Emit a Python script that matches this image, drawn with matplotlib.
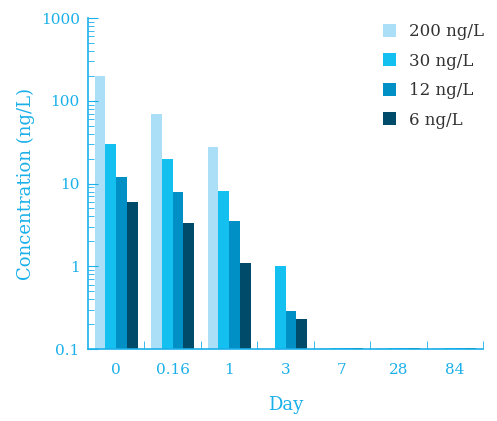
import numpy as np
import matplotlib
matplotlib.use("Agg")
import matplotlib.pyplot as plt
from matplotlib.ticker import FixedLocator, NullFormatter

days = ["0", "0.16", "1", "3", "7", "28", "84"]
series = ["200 ng/L", "30 ng/L", "12 ng/L", "6 ng/L"]
conc_200 = [200, 70, 28, 0.1, 0.102, 0.102, 0.102]
conc_30 = [30, 20, 8.2, 1.0, 0.103, 0.103, 0.103]
conc_12 = [12, 8, 3.5, 0.29, 0.103, 0.103, 0.103]
conc_6 = [6, 3.3, 1.1, 0.23, 0.104, 0.104, 0.104]

colors = ["#aadff7", "#14c0f0", "#0090c6", "#004a6a"]
blue = "#1ab0ea"

plt.rcParams['font.family'] = ['DejaVu Serif']

fig = plt.figure(figsize=(4.97, 4.21), dpi=100)
ax = fig.add_axes([0.177, 0.171, 0.795, 0.786])

x = np.arange(len(days))
w = 0.19
for i, vals in enumerate([conc_200, conc_30, conc_12, conc_6]):
    ax.bar(x + (i - 1.5) * w, vals, width=w, color=colors[i], label=series[i],
           bottom=0, log=True)

ax.set_yscale('log')
ax.set_ylim(0.1, 1000)
ax.set_xlim(-0.5, 6.5)
ax.set_yticks([0.1, 1, 10, 100, 1000])
ax.set_yticklabels(["0.1", "1", "10", "100", "1000"])
ax.set_xticks(x)
ax.set_xticklabels(days)
ax.xaxis.set_minor_locator(FixedLocator(np.arange(0.5, 7, 1)))
ax.xaxis.set_minor_formatter(NullFormatter())

ax.tick_params(axis='y', which='major', direction='in', length=7, color=blue,
               labelcolor=blue, labelsize=11, pad=6)
ax.tick_params(axis='y', which='minor', direction='in', length=4, color=blue)
ax.tick_params(axis='x', which='major', length=0, labelcolor=blue, labelsize=11, pad=10)
ax.tick_params(axis='x', which='minor', direction='in', length=6, color=blue)

for s in ['top', 'right']:
    ax.spines[s].set_visible(False)
for s in ['left', 'bottom']:
    ax.spines[s].set_color(blue)
    ax.spines[s].set_linewidth(1.2)

ax.set_xlabel("Day", color=blue, fontsize=13, labelpad=14)
ax.set_ylabel("Concentration (ng/L)", color=blue, fontsize=13, labelpad=4)

leg = ax.legend(loc='upper right', bbox_to_anchor=(1.02, 1.005), frameon=False,
                fontsize=12, handlelength=0.8, handleheight=0.8,
                handletextpad=0.8, labelspacing=0.75, borderaxespad=0)
for t in leg.get_texts():
    t.set_color("#333333")

fig.savefig("out.png", dpi=100)
